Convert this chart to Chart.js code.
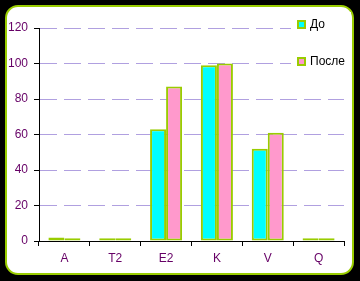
<!DOCTYPE html>
<html>
<head>
<meta charset="utf-8">
<script src="https://cdn.jsdelivr.net/npm/chart.js@4"></script>
<style>
  html, body { margin: 0; padding: 0; background: #000; }
  #box { width: 360px; height: 281px; }
</style>
</head>
<body>
<div id="box"><canvas id="grafico" width="360" height="281"></canvas></div>
<script>
// Dados do gráfico
const categorias = ['A', 'T2', 'E2', 'K', 'V', 'Q'];
const valoresDo = [2, 1.5, 63, 99, 52, 1.5];
const valoresPosle = [1.5, 1.5, 87, 100, 61, 1.5];
const rotulosSeries = ['До', 'После'];
const marcasY = [0, 20, 40, 60, 80, 100, 120];

const verde = '#99CC00';
const roxo = '#660066';

// Fundo preto com painel branco arredondado
const painel = {
    id: 'painel',
    beforeDraw(chart) {
        const ctx = chart.ctx;
        ctx.save();
        ctx.fillStyle = '#000';
        ctx.fillRect(0, 0, chart.width, chart.height);
        ctx.beginPath();
        ctx.roundRect(6, 6, 347, 268, 12);
        ctx.fillStyle = '#fff';
        ctx.fill();
        ctx.lineWidth = 2;
        ctx.strokeStyle = verde;
        ctx.stroke();
        ctx.restore();
    }
};

// Legenda desenhada à direita, sobre a área do gráfico
const legenda = {
    id: 'legenda',
    afterDatasetsDraw(chart) {
        const ctx = chart.ctx;
        ctx.save();
        ctx.fillStyle = '#fff';
        ctx.fillRect(291, 12, 60, 58);
        ctx.font = '12px "Liberation Sans", Arial, sans-serif';
        ctx.textBaseline = 'middle';
        const ys = [24, 61];
        chart.data.datasets.forEach((ds, i) => {
            ctx.fillStyle = ds.backgroundColor;
            ctx.fillRect(298, ys[i] - 3, 7, 7);
            ctx.strokeStyle = verde;
            ctx.lineWidth = 2;
            ctx.strokeRect(298, ys[i] - 3, 7, 7);
            ctx.fillStyle = '#000';
            ctx.fillText(ds.label, 310, ys[i] + 1);
        });
        ctx.restore();
    }
};

const config = {
    type: 'bar',
    data: {
        labels: categorias,
        datasets: [
            {
                label: rotulosSeries[0],
                data: valoresDo,
                backgroundColor: '#00FFFF',
                borderColor: verde,
                borderWidth: 2,
                borderSkipped: false,
                barPercentage: 1,
                categoryPercentage: 0.63
            },
            {
                label: rotulosSeries[1],
                data: valoresPosle,
                backgroundColor: '#FF99CC',
                borderColor: verde,
                borderWidth: 2,
                borderSkipped: false,
                barPercentage: 1,
                categoryPercentage: 0.63
            }
        ]
    },
    options: {
        responsive: false,
        animation: false,
        layout: { padding: { top: 28, right: 16, bottom: 10, left: 0 } },
        plugins: {
            legend: { display: false },
            tooltip: { enabled: false }
        },
        scales: {
            x: {
                grid: {
                    offset: true,
                    drawOnChartArea: false,
                    tickLength: 5,
                    tickColor: '#000'
                },
                border: { color: '#000', width: 1 },
                ticks: {
                    color: roxo,
                    padding: 5,
                    font: { family: '"Liberation Sans", Arial, sans-serif', size: 12 }
                },
                afterFit(scale) { scale.height = 30; }
            },
            y: {
                min: 0,
                max: 120,
                afterBuildTicks(scale) {
                    scale.ticks = marcasY.map(v => ({ value: v }));
                },
                grid: {
                    color: '#B0A0E0',
                    tickLength: 5,
                    tickColor: '#000',
                    tickBorderDash: [0, 0]
                },
                border: { color: '#000', width: 1, dash: [17, 7] },
                ticks: {
                    color: roxo,
                    padding: 6,
                    font: { family: '"Liberation Sans", Arial, sans-serif', size: 12 }
                },
                afterFit(scale) { scale.width = 39; }
            }
        }
    },
    plugins: [painel, legenda]
};

new Chart(document.getElementById('grafico'), config);
</script>
</body>
</html>
